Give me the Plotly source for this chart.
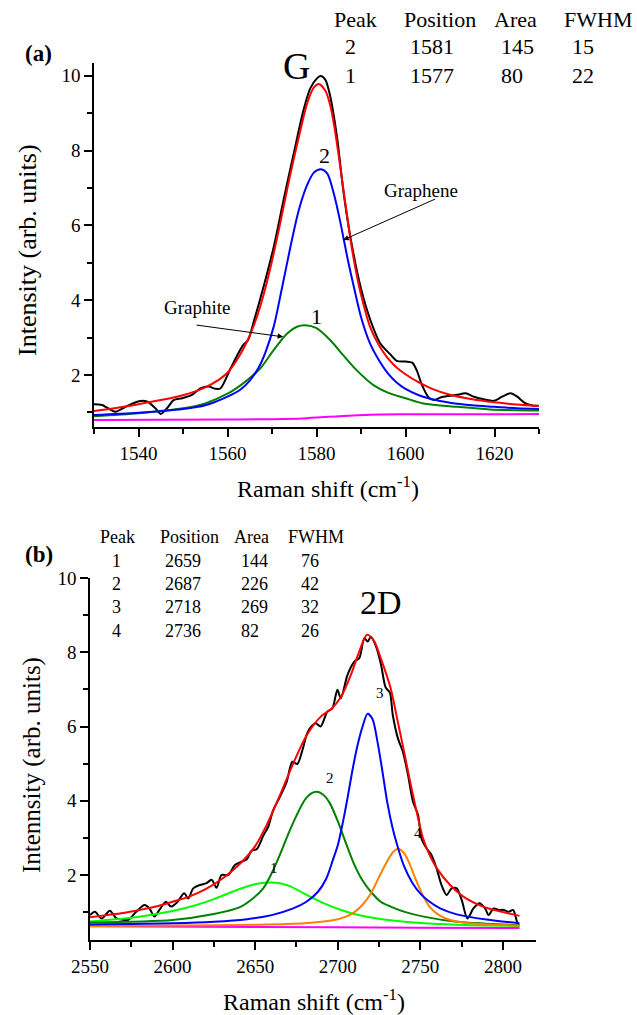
import plotly.graph_objects as go

W, H = 637, 1015
FONT = "Liberation Serif"

# ---------------- Panel (a): G band ----------------
g_black_x = [1530, 1531.8, 1534.8, 1537.1, 1540.1, 1541.9, 1543.8, 1545, 1546.4, 1547.9, 1549.8, 1552,
             1553.9, 1555.8, 1557.3, 1558.4, 1560.7, 1562.2, 1563.5, 1564.6, 1566, 1568.1, 1570.4,
             1572.6, 1574.9, 1577.1, 1578.6, 1580.1, 1580.9, 1582, 1583.1, 1584.6, 1586.1, 1587.6,
             1589.9, 1592.1, 1594.3, 1596.6, 1598, 1600, 1601.5, 1602.5, 1603.7, 1605.2, 1606.4,
             1607.9, 1609.7, 1611.6, 1613.5, 1615.4, 1617.6, 1619.9, 1621.7, 1623.6, 1625.1, 1627,
             1628.8, 1630]
g_black_y = [1.22, 1.20, 1.02, 1.15, 1.30, 1.29, 1.11, 0.96, 1.11, 1.33, 1.38, 1.47,
             1.64, 1.69, 1.63, 1.64, 2.18, 2.53, 2.80, 2.93, 3.47, 4.36, 5.43,
             6.68, 7.93, 9.09, 9.66, 9.93, 9.99, 9.89, 9.44, 8.37, 6.86, 5.70,
             4.36, 3.47, 2.85, 2.55, 2.38, 2.36, 2.33, 2.13, 1.73, 1.40, 1.33,
             1.40, 1.44, 1.47, 1.51, 1.42, 1.35, 1.31, 1.42, 1.51, 1.42, 1.24,
             1.18, 1.18]

g_red_x = [1530, 1535, 1540, 1545, 1550, 1555, 1558, 1560, 1562, 1564, 1566, 1568, 1570, 1572, 1574,
           1576, 1578, 1579.5, 1580.5, 1582, 1583, 1584, 1585, 1586, 1587, 1588, 1589, 1590, 1592,
           1594, 1596, 1598, 1600, 1603, 1606, 1610, 1615, 1620, 1625, 1630]
g_red_y = [1.04, 1.12, 1.22, 1.33, 1.46, 1.67, 1.87, 2.06, 2.38, 2.80, 3.35, 4.10, 5.05, 6.15, 7.30,
           8.35, 9.30, 9.70, 9.78, 9.60, 9.25, 8.65, 7.85, 7.00, 6.15, 5.35, 4.70, 4.15, 3.30,
           2.80, 2.45, 2.20, 2.02, 1.80, 1.63, 1.47, 1.35, 1.27, 1.21, 1.17]

g_blue_x = [1530, 1540, 1550, 1555, 1560, 1563, 1565, 1567, 1568.5, 1570.4, 1572.2, 1574.1, 1576,
            1577.9, 1579.4, 1581, 1582.4, 1584, 1585.5, 1587, 1588.5, 1590, 1592, 1594, 1596, 1598,
            1600, 1603, 1606, 1610, 1615, 1620, 1625, 1630]
g_blue_y = [0.93, 0.99, 1.09, 1.19, 1.42, 1.62, 1.85, 2.20, 2.60, 3.30, 4.30, 5.40, 6.40,
            7.08, 7.41, 7.50, 7.39, 6.80, 6.00, 5.10, 4.30, 3.55, 2.85, 2.40, 2.05, 1.80,
            1.63, 1.46, 1.35, 1.26, 1.19, 1.15, 1.11, 1.09]

g_green_x = [1530, 1540, 1550, 1555, 1560, 1563, 1565, 1567.4, 1570.4, 1573.4, 1575.6, 1577.5, 1580,
             1583, 1586, 1589, 1592.8, 1596, 1600, 1604, 1611.6, 1619, 1630]
g_green_y = [0.90, 0.98, 1.11, 1.24, 1.50, 1.73, 1.92, 2.18, 2.67, 3.11, 3.29, 3.33, 3.25,
             2.94, 2.53, 2.13, 1.73, 1.53, 1.38, 1.24, 1.15, 1.08, 1.05]

g_base_x = [1530, 1560, 1570, 1577, 1585, 1592, 1600, 1630]
g_base_y = [0.80, 0.81, 0.82, 0.84, 0.90, 0.94, 0.95, 0.955]

g_tbl_head = ["Peak", "Position", "Area", "FWHM"]
g_tbl_peak = ["2", "1"]
g_tbl_pos = ["1581", "1577"]
g_tbl_area = ["145", "80"]
g_tbl_fwhm = ["15", "22"]

# ---------------- Panel (b): 2D band ----------------
d_black_x = [2550, 2553, 2557, 2562, 2566, 2569, 2573, 2578, 2583, 2586, 2589, 2592, 2596, 2599,
             2603, 2607, 2609.5, 2612.5, 2616.5, 2620.5, 2623.6, 2626.6, 2629.6, 2633.7, 2637.7,
             2641.7, 2644.8, 2647.8, 2651, 2654.8, 2657.9, 2660.9, 2664.9, 2669, 2672.5, 2675.5,
             2678.5, 2681.5, 2684, 2686.6, 2689.6, 2693.7, 2696.7, 2699.8, 2701.8, 2705.9, 2710,
             2713, 2716.1, 2718.1, 2720.1, 2723.2, 2726.2, 2729, 2731.5, 2733.3, 2736.4, 2739.4,
             2742.5, 2745.5, 2748.6, 2750.6, 2753.7, 2756.7, 2759.8, 2762.8, 2765.9, 2768.9, 2772,
             2775, 2778.5, 2782.1, 2785.8, 2789.2, 2791.3, 2794.3, 2797.4, 2800.4, 2803.5, 2806.1,
             2808.5, 2809.5]
d_black_y = [0.92, 1.01, 0.83, 1.04, 0.83, 0.80, 0.79, 1.01, 1.19, 1.10, 0.88, 1.06, 1.28, 1.15,
             1.28, 1.51, 1.37, 1.64, 1.73, 1.78, 1.87, 1.66, 2.00, 2.00, 2.27,
             2.36, 2.42, 2.65, 2.70, 3.05, 3.30, 3.75, 4.10, 4.50, 5.05, 4.99,
             5.35, 5.82, 6.00, 6.09, 6.00, 6.40, 6.49, 6.99, 6.76, 7.39, 7.75,
             7.84, 8.38, 8.29, 8.42, 8.15, 7.66, 7.05, 6.92, 6.31, 5.68, 5.32,
             4.70, 3.98, 3.62, 2.99, 2.72, 2.54, 2.18, 1.73, 1.46, 1.64, 1.64,
             1.33, 0.83, 1.10, 1.24, 1.10, 0.92, 1.10, 1.06, 1.06, 1.01, 1.06,
             0.74, 0.65]

d_red_x = [2550, 2560, 2570, 2580, 2590, 2600, 2610, 2620, 2630, 2640, 2650, 2657, 2665, 2673, 2681,
           2690, 2696, 2702, 2708, 2713, 2717.7, 2722, 2726, 2732, 2736, 2740, 2745.5, 2751.6, 2755,
           2760, 2768, 2776, 2788, 2800, 2810]
d_red_y = [0.86, 0.92, 0.98, 1.06, 1.15, 1.28, 1.42, 1.62, 1.90, 2.27, 2.78, 3.35, 4.15, 5.00, 5.75,
           6.28, 6.47, 6.80, 7.40, 8.02, 8.47, 8.30, 7.84, 7.03, 6.20, 5.35, 4.16, 2.99, 2.60,
           2.18, 1.73, 1.42, 1.15, 1.00, 0.90]

d_blue_x = [2550, 2600, 2625, 2645, 2660, 2673, 2681, 2688, 2693, 2697, 2700, 2703, 2706, 2709, 2712,
            2715, 2718, 2721, 2724, 2727, 2730, 2733, 2736, 2740, 2745, 2750, 2755, 2762, 2772, 2790,
            2810]
d_blue_y = [0.67, 0.70, 0.74, 0.81, 0.92, 1.10, 1.28, 1.55, 1.90, 2.40, 2.80, 3.40, 4.10, 4.85, 5.50,
            6.00, 6.34, 6.20, 5.60, 4.80, 3.95, 3.30, 2.80, 2.25, 1.80, 1.50, 1.30, 1.10, 0.94, 0.80,
            0.70]

d_g2_x = [2550, 2600, 2625, 2640, 2648, 2655, 2660, 2665, 2670, 2675, 2680, 2684, 2687.5, 2691, 2695,
          2700, 2705, 2710, 2715, 2720, 2726, 2732, 2741, 2752, 2772, 2790, 2810]
d_g2_y = [0.72, 0.79, 0.95, 1.12, 1.35, 1.65, 2.05, 2.55, 3.10, 3.60, 4.02, 4.20, 4.24, 4.17, 3.95,
          3.45, 2.85, 2.28, 1.85, 1.55, 1.28, 1.15, 1.00, 0.88, 0.74, 0.69, 0.65]

d_g1_x = [2550, 2575, 2600, 2615, 2625, 2635, 2645, 2652, 2659, 2665, 2671, 2681, 2691, 2702, 2712,
          2722, 2736, 2752, 2772, 2790, 2810]
d_g1_y = [0.75, 0.85, 1.03, 1.20, 1.35, 1.53, 1.69, 1.77, 1.80, 1.78, 1.70, 1.47, 1.25, 1.06, 0.93,
          0.84, 0.76, 0.70, 0.66, 0.64, 0.63]

d_or_x = [2550, 2600, 2650, 2680, 2697, 2705, 2710, 2715, 2720, 2725, 2730, 2733.5, 2736.5, 2740,
          2743.5, 2747, 2751, 2756, 2762, 2768, 2780, 2795, 2810]
d_or_y = [0.63, 0.64, 0.66, 0.70, 0.78, 0.88, 1.00, 1.20, 1.50, 1.95, 2.38, 2.62, 2.71, 2.60,
          2.30, 1.90, 1.50, 1.12, 0.90, 0.79, 0.70, 0.66, 0.64]

d_base_x = [2550, 2650, 2750, 2810]
d_base_y = [0.62, 0.60, 0.58, 0.57]

d_tbl_head = ["Peak", "Position", "Area", "FWHM"]
d_tbl_peak = ["1", "2", "3", "4"]
d_tbl_pos = ["2659", "2687", "2718", "2736"]
d_tbl_area = ["144", "226", "269", "82"]
d_tbl_fwhm = ["76", "42", "32", "26"]

# ---------------- figure ----------------
def px(x):
    return x / W

def py(y):
    return 1 - y / H

fig = go.Figure()

def line(x, y, color, xa, ya, width=2):
    fig.add_trace(go.Scatter(x=x, y=y, mode="lines", xaxis=xa, yaxis=ya,
                             line=dict(color=color, width=width, shape="spline", smoothing=0.8),
                             showlegend=False, hoverinfo="skip"))

line(g_black_x, g_black_y, "#000000", "x", "y")
line(g_base_x, g_base_y, "#FF00FF", "x", "y")
line(g_green_x, g_green_y, "#008000", "x", "y")
line(g_blue_x, g_blue_y, "#0000FF", "x", "y")
line(g_red_x, g_red_y, "#FF0000", "x", "y")

line(d_black_x, d_black_y, "#000000", "x2", "y2")
line(d_base_x, d_base_y, "#FF00FF", "x2", "y2")
line(d_g1_x, d_g1_y, "#00FF00", "x2", "y2")
line(d_g2_x, d_g2_y, "#008000", "x2", "y2")
line(d_or_x, d_or_y, "#FF8000", "x2", "y2")
line(d_blue_x, d_blue_y, "#0000FF", "x2", "y2")
line(d_red_x, d_red_y, "#FF0000", "x2", "y2")

tickfont = dict(family=FONT, size=19, color="black")

def axis(domain, rng, tick0, dtick, mtick0, mdtick, anchor):
    return dict(domain=domain, range=rng, anchor=anchor, showline=True, linecolor="black",
                linewidth=1.5, ticks="outside", ticklen=8, tickwidth=1.5, tickcolor="black",
                tick0=tick0, dtick=dtick, tickfont=tickfont, showgrid=False, zeroline=False,
                automargin=False, fixedrange=True,
                minor=dict(ticks="outside", ticklen=5, tickwidth=1.5, tickcolor="black",
                           tick0=mtick0, dtick=mdtick, showgrid=False))

ann = []

def txt(x, y, s, size, xanchor="center", bold=False, angle=0):
    if bold:
        s = "<b>" + s + "</b>"
    ann.append(dict(x=px(x), y=py(y), xref="paper", yref="paper", text=s, showarrow=False,
                    xanchor=xanchor, yanchor="middle", textangle=angle,
                    font=dict(family=FONT, size=size, color="black")))

# panel labels and titles
txt(38, 53, "(a)", 23, bold=True)
txt(39, 554, "(b)", 23, bold=True)
txt(296, 66, "G", 38)
txt(381, 602, "2D", 34)
txt(27, 250, "Intensity (arb. units)", 26, angle=-90)
txt(32, 765, "Intennsity (arb. units)", 25, angle=-90)
txt(328, 487, "Raman shift (cm<sup>-1</sup>)", 24)
txt(314, 1000, "Raman shift (cm<sup>-1</sup>)", 24)

# table (a)
for s, xl in zip(g_tbl_head, [332, 402, 492, 562]):
    txt(xl, 20, s, 22, xanchor="left")
for i, yy in enumerate([47, 75]):
    txt(351, yy, g_tbl_peak[i], 22)
    txt(408, yy, g_tbl_pos[i], 22, xanchor="left")
    txt(499, yy, g_tbl_area[i], 22, xanchor="left")
    txt(570, yy, g_tbl_fwhm[i], 22, xanchor="left")

# table (b)
for s, xl in zip(d_tbl_head, [98, 158, 232, 286]):
    txt(xl, 537, s, 18, xanchor="left")
for i, yy in enumerate([561, 584, 607, 631]):
    txt(116, yy, d_tbl_peak[i], 18)
    txt(163, yy, d_tbl_pos[i], 18, xanchor="left")
    txt(239, yy, d_tbl_area[i], 18, xanchor="left")
    txt(299, yy, d_tbl_fwhm[i], 18, xanchor="left")

# peak labels
txt(324, 155, "2", 22)
txt(316, 316, "1", 22)
txt(274, 868, "1", 15)
txt(330, 778, "2", 15)
txt(380, 693, "3", 15)
txt(418, 833, "4", 15)

# Graphite / Graphene labels
txt(197, 307, "Graphite", 19)
txt(421, 190, "Graphene", 19)

for (xt, yt, xa_, ya_) in [(1572.5, 3.02, 1552.7, 3.34), (1586.0, 5.61, 1607.0, 6.72)]:
    ann.append(dict(x=xt, y=yt, ax=xa_, ay=ya_, xref="x", yref="y", axref="x", ayref="y",
                    text="", showarrow=True, arrowhead=2, arrowsize=1.1, arrowwidth=1,
                    arrowcolor="black"))

fig.update_layout(
    width=W, height=H, margin=dict(l=0, r=0, t=0, b=0),
    paper_bgcolor="white", plot_bgcolor="white", showlegend=False,
    font=dict(family=FONT, color="black"),
    xaxis=axis([94 / W, 539 / W], [1530, 1630], 1540, 20, 1530, 10, "y"),
    yaxis=axis([1 - 427 / H, 1 - 63 / H], [0.61, 10.34], 2, 2, 1, 1, "x"),
    xaxis2=axis([90 / W, 536 / W], [2550, 2820], 2550, 50, 2575, 50, "y2"),
    yaxis2=axis([1 - 940 / H, 1 - 578 / H], [0.25, 10.0], 2, 2, 1, 1, "x2"),
    annotations=ann,
)

fig.write_html("out.html")
